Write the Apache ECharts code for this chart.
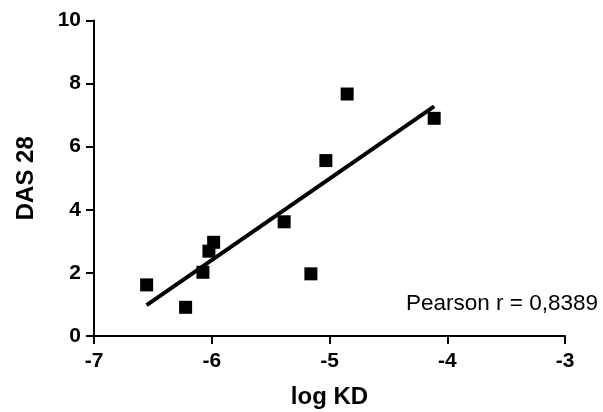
<!DOCTYPE html>
<html><head><meta charset="utf-8">
<script src="https://cdn.jsdelivr.net/npm/echarts@6/dist/echarts.min.js"></script>
<style>html,body{margin:0;padding:0;background:#fff}#c{width:603px;height:412px}</style>
</head><body><div id="c"></div>
<script>
var logKD = [-6.553, -6.222, -6.075, -6.024, -5.984, -5.385, -5.158, -5.031, -4.850, -4.111];
var das28 = [1.62, 0.91, 2.02, 2.69, 2.97, 3.62, 1.97, 5.56, 7.67, 6.90];
var xTicks = [-7, -6, -5, -4, -3];
var yTicks = [0, 2, 4, 6, 8, 10];
var pearsonText = 'Pearson r = 0,8389';

var n = logKD.length, mx = 0, my = 0;
for (var i = 0; i < n; i++) { mx += logKD[i]; my += das28[i]; }
mx /= n; my /= n;
var sxy = 0, sxx = 0;
for (var i = 0; i < n; i++) { sxy += (logKD[i]-mx)*(das28[i]-my); sxx += (logKD[i]-mx)*(logKD[i]-mx); }
var slope = sxy / sxx, icpt = my - slope * mx;
var xmin = Math.min.apply(null, logKD), xmax = Math.max.apply(null, logKD);
var fit = [[xmin, icpt + slope*xmin], [xmax, icpt + slope*xmax]];

var font = 'Liberation Sans, Arial, sans-serif';
var chart = echarts.init(document.getElementById('c'));
chart.setOption({
  animation: false,
  grid: {left: 94, right: 38, top: 20.5, bottom: 76, containLabel: false, outerBoundsMode: 'none'},
  xAxis: {
    type: 'value', min: xTicks[0], max: xTicks[xTicks.length-1], interval: 1,
    name: 'log KD', nameLocation: 'middle', nameGap: 49,
    nameTextStyle: {fontFamily: font, fontWeight: 'bold', fontSize: 24, color: '#000'},
    axisLine: {show: true, lineStyle: {color: '#000', width: 2}},
    axisTick: {show: true, length: 8, lineStyle: {color: '#000', width: 2}},
    axisLabel: {fontFamily: font, fontWeight: 'bold', fontSize: 21, color: '#000', margin: 15},
    splitLine: {show: false}
  },
  yAxis: {
    type: 'value', min: yTicks[0], max: yTicks[yTicks.length-1], interval: 2,
    name: 'DAS 28', nameLocation: 'middle', nameGap: 56, nameRotate: 90,
    nameTextStyle: {fontFamily: font, fontWeight: 'bold', fontSize: 24, color: '#000'},
    axisLine: {show: true, lineStyle: {color: '#000', width: 2}},
    axisTick: {show: true, length: 8, lineStyle: {color: '#000', width: 2}},
    axisLabel: {fontFamily: font, fontWeight: 'bold', fontSize: 21, color: '#000', margin: 13},
    splitLine: {show: false}
  },
  graphic: [{
    type: 'text', right: 5, top: 292,
    style: {text: pearsonText, fontFamily: font, fontSize: 22.5, fill: '#000'}
  }],
  series: [{
    type: 'scatter', symbol: 'rect', symbolSize: 13,
    itemStyle: {color: '#000', opacity: 1},
    data: logKD.map(function(x, i){ return [x, das28[i]]; }),
    z: 3
  }, {
    type: 'line', data: fit, symbol: 'none',
    lineStyle: {color: '#000', width: 4}, z: 2
  }]
});
</script></body></html>
